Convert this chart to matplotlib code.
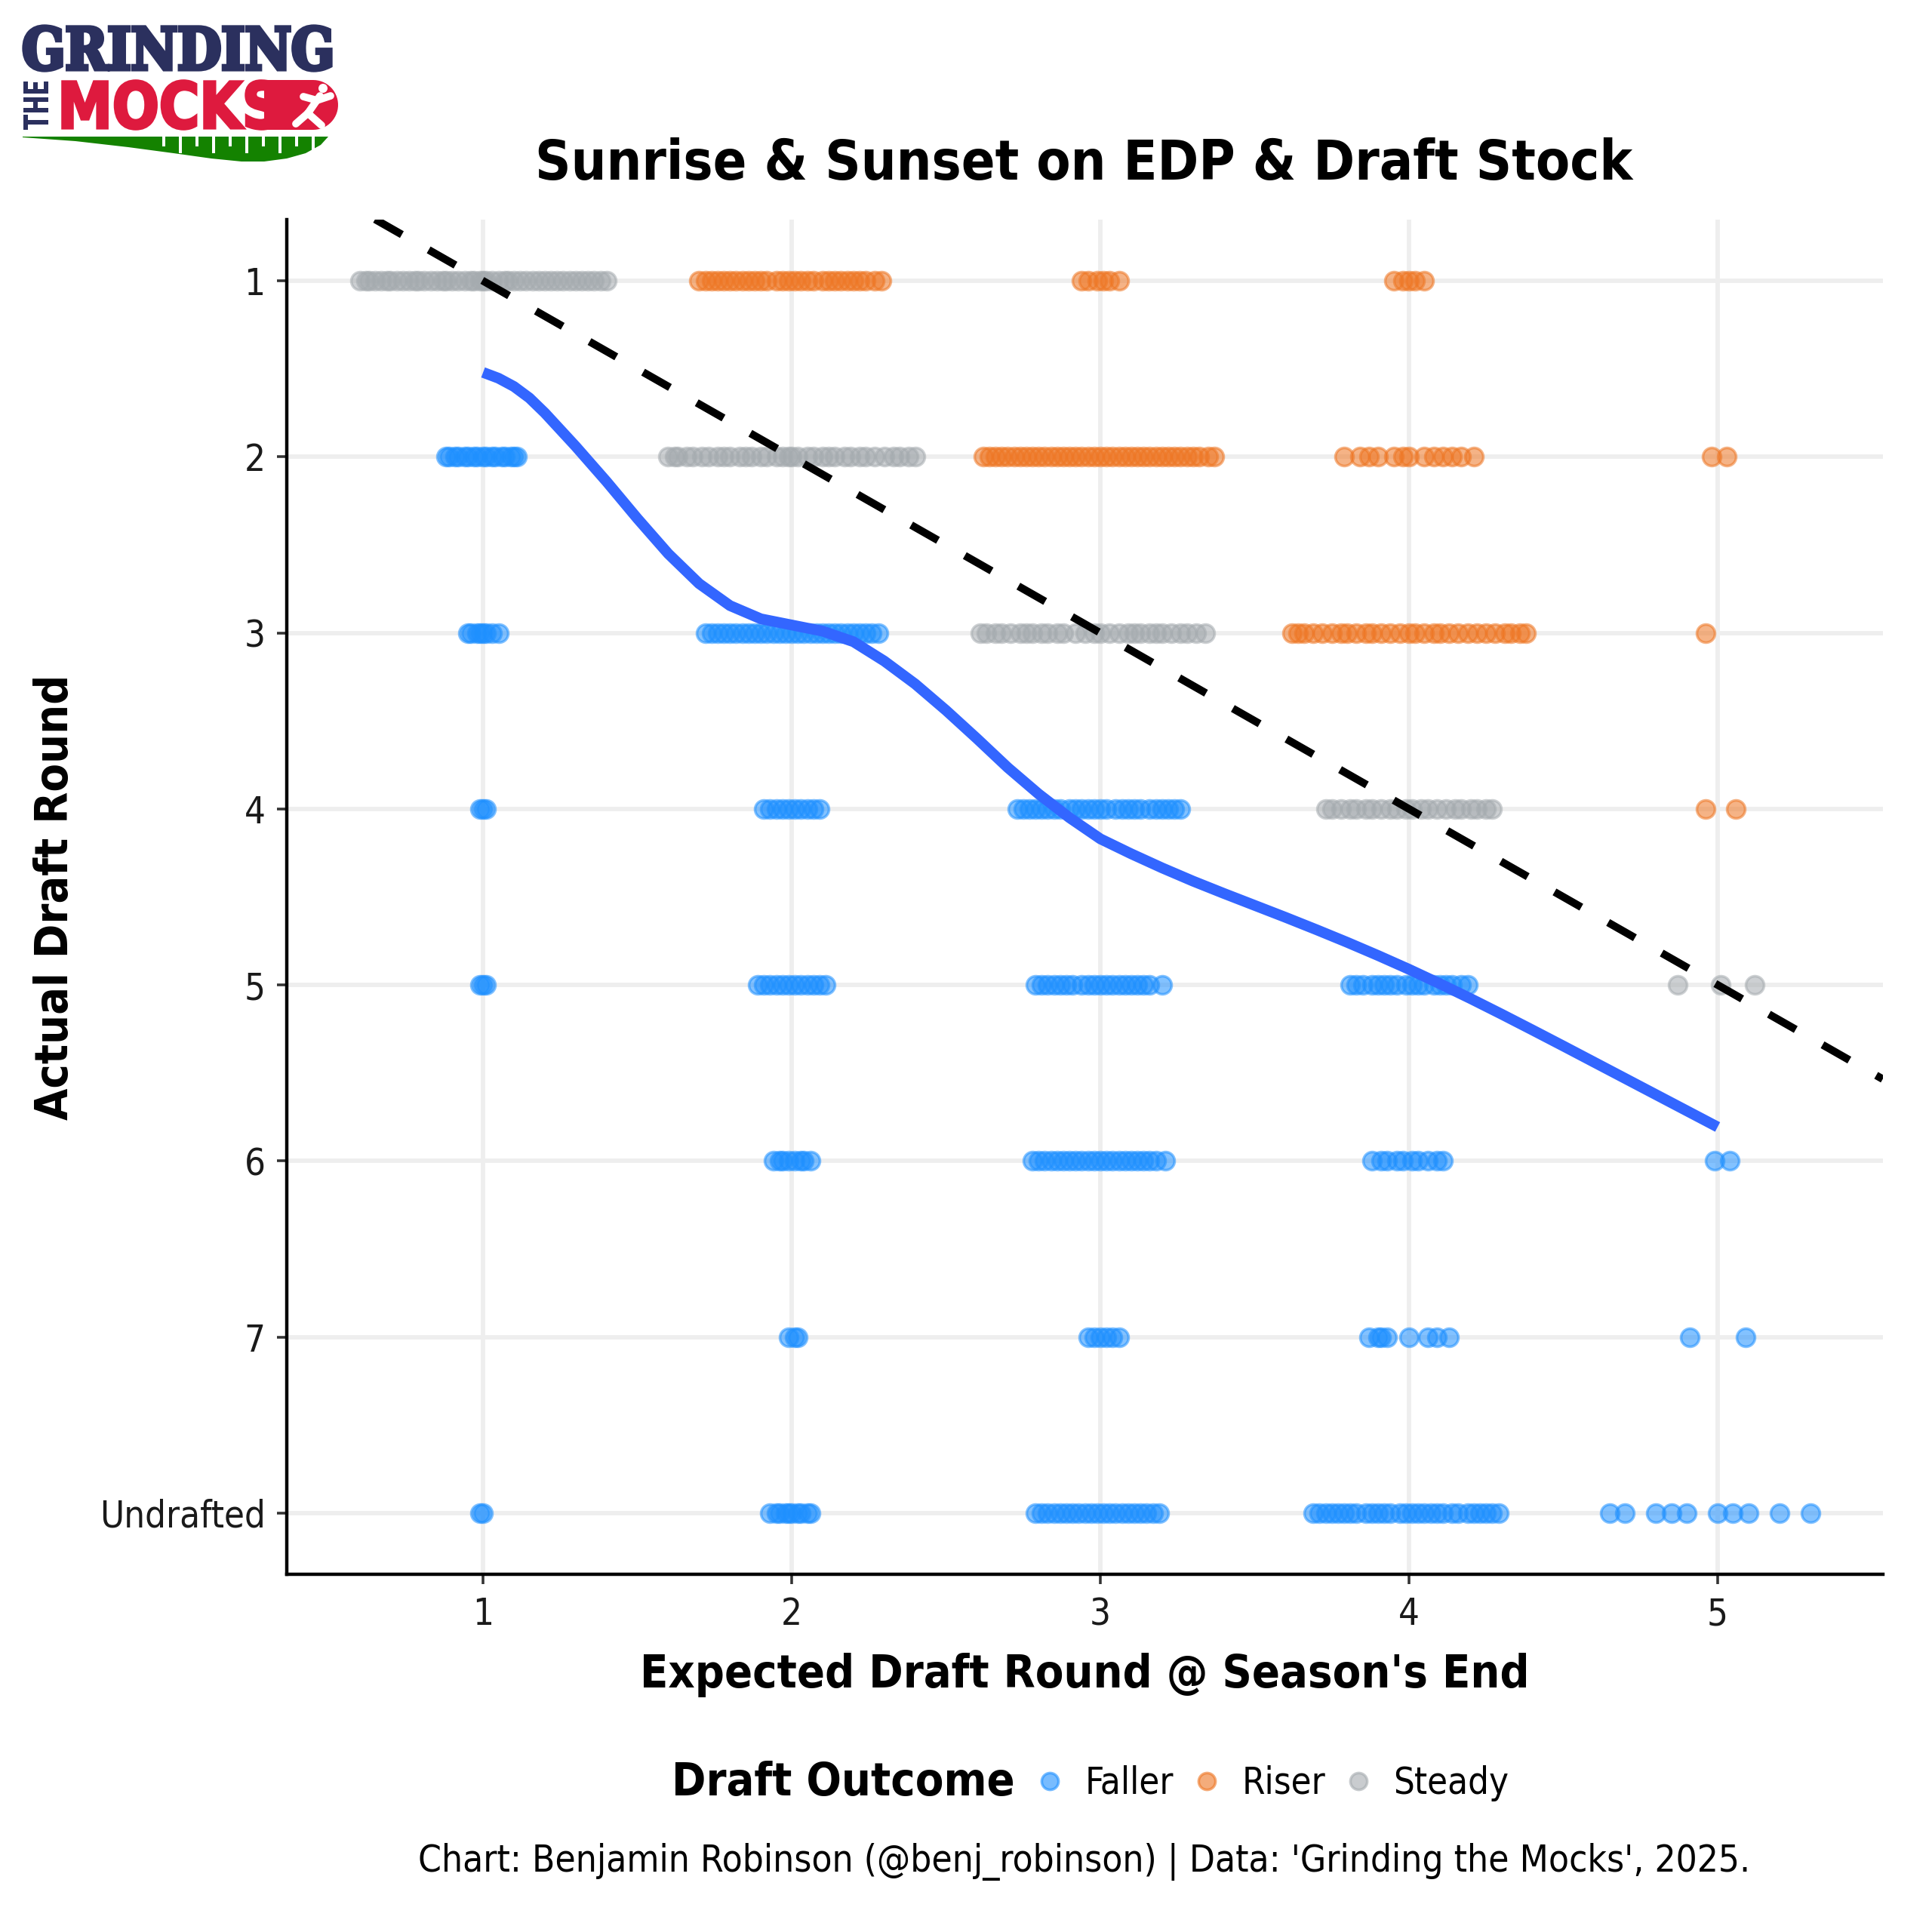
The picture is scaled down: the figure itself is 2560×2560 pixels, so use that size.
import os
import numpy as np
import matplotlib
matplotlib.use('Agg')
import matplotlib.pyplot as plt
import matplotlib.font_manager as font_manager
from matplotlib.textpath import TextPath
from matplotlib.patches import PathPatch, Polygon, Rectangle, Circle
from matplotlib.transforms import Affine2D
from matplotlib.lines import Line2D

# expected round (x) of each player, grouped by actual draft round (8 = undrafted)
faller = {
    2: [0.88, 0.89, 0.91, 0.92, 0.94, 0.95, 0.97, 0.98, 1.00, 1.01, 1.03, 1.04,
        1.06, 1.07, 1.09, 1.10, 1.11],
    3: [0.95, 0.96, 0.98, 0.99, 1.00, 1.01, 1.03, 1.05,
        1.72, 1.74, 1.76, 1.78, 1.80, 1.82, 1.84, 1.86, 1.88, 1.90, 1.92, 1.94,
        1.96, 1.98, 2.00, 2.02, 2.04, 2.06, 2.08, 2.10, 2.12, 2.14, 2.16, 2.18,
        2.20, 2.22, 2.24, 2.26, 2.28],
    4: [0.99, 1.00, 1.01,
        1.91, 1.93, 1.95, 1.97, 1.99, 2.01, 2.03, 2.05, 2.07, 2.09,
        2.73, 2.75, 2.77, 2.79, 2.81, 2.83, 2.85, 2.87, 2.90, 2.92, 2.94, 2.96,
        2.98, 3.00, 3.02, 3.05, 3.07, 3.09, 3.11, 3.13, 3.16, 3.18, 3.20, 3.22,
        3.24, 3.26],
    5: [0.99, 1.00, 1.01,
        1.89, 1.91, 1.93, 1.95, 1.97, 1.99, 2.01, 2.03, 2.05, 2.07, 2.09, 2.11,
        2.79, 2.81, 2.83, 2.85, 2.87, 2.89, 2.91, 2.94, 2.96, 2.98, 3.00, 3.02,
        3.04, 3.06, 3.08, 3.10, 3.12, 3.14, 3.16, 3.20,
        3.81, 3.83, 3.85, 3.88, 3.90, 3.92, 3.94, 3.96, 3.99, 4.01, 4.03, 4.05,
        4.08, 4.10, 4.12, 4.14, 4.17, 4.19],
    6: [1.94, 1.96, 1.97, 1.99, 2.01, 2.03, 2.04, 2.06,
        2.78, 2.80, 2.82, 2.84, 2.86, 2.88, 2.90, 2.92, 2.94, 2.96, 2.98, 3.00,
        3.02, 3.04, 3.06, 3.08, 3.10, 3.12, 3.14, 3.16, 3.18, 3.21,
        3.88, 3.91, 3.93, 3.96, 3.98, 4.01, 4.03, 4.06, 4.09, 4.11,
        4.99, 5.04],
    7: [1.99, 2.01, 2.02,
        2.96, 2.98, 3.00, 3.02, 3.04, 3.06,
        3.87, 3.90, 3.91, 3.93, 4.00, 4.06, 4.09, 4.13,
        4.91, 5.09],
    8: [0.99, 1.00,
        1.93, 1.95, 1.96, 1.98, 1.99, 2.00, 2.02, 2.03, 2.05, 2.06,
        2.79, 2.81, 2.83, 2.85, 2.87, 2.89, 2.91, 2.93, 2.95, 2.97, 2.99, 3.01,
        3.03, 3.05, 3.07, 3.09, 3.11, 3.13, 3.15, 3.17, 3.19,
        3.69, 3.71, 3.73, 3.75, 3.77, 3.79, 3.81, 3.83, 3.86, 3.88, 3.90, 3.92,
        3.94, 3.97, 3.99, 4.01, 4.03, 4.05, 4.07, 4.09, 4.11, 4.14, 4.16, 4.19,
        4.21, 4.23, 4.25, 4.27, 4.29,
        4.65, 4.70, 4.80, 4.85, 4.90, 5.00, 5.05, 5.10, 5.20, 5.30],
}

riser = {
    1: [1.70, 1.72, 1.74, 1.76, 1.78, 1.80, 1.82, 1.84, 1.86, 1.88, 1.90, 1.92,
        1.95, 1.97, 1.99, 2.01, 2.03, 2.05, 2.07, 2.10, 2.12, 2.14, 2.16, 2.18,
        2.20, 2.22, 2.24, 2.27, 2.29,
        2.94, 2.96, 2.99, 3.01, 3.03, 3.06,
        3.95, 3.98, 4.00, 4.02, 4.05],
    2: [2.62, 2.64, 2.66, 2.68, 2.70, 2.72, 2.74, 2.76, 2.78, 2.80, 2.82, 2.84,
        2.86, 2.88, 2.90, 2.92, 2.94, 2.96, 2.98, 3.00, 3.02, 3.04, 3.06, 3.08,
        3.10, 3.12, 3.14, 3.16, 3.18, 3.20, 3.22, 3.24, 3.26, 3.28, 3.30, 3.32,
        3.35, 3.37,
        3.79, 3.84, 3.87, 3.90, 3.95, 3.98, 4.00, 4.05, 4.08, 4.11, 4.14, 4.17,
        4.21,
        4.98, 5.03],
    3: [3.62, 3.64, 3.66, 3.69, 3.72, 3.75, 3.78, 3.80, 3.83, 3.86, 3.88, 3.91,
        3.94, 3.97, 4.00, 4.02, 4.05, 4.08, 4.10, 4.13, 4.16, 4.19, 4.22, 4.25,
        4.28, 4.31, 4.33, 4.36, 4.38,
        4.96],
    4: [4.96, 5.06],
}

steady = {
    1: [0.60, 0.62, 0.63, 0.65, 0.67, 0.69, 0.70, 0.72, 0.74, 0.76, 0.78, 0.79,
        0.81, 0.83, 0.85, 0.87, 0.88, 0.90, 0.92, 0.94, 0.96, 0.97, 0.99, 1.00,
        1.01, 1.03, 1.05, 1.07, 1.08, 1.10, 1.12, 1.14, 1.16, 1.18, 1.20, 1.22,
        1.24, 1.26, 1.28, 1.30, 1.32, 1.34, 1.36, 1.38, 1.40],
    2: [1.60, 1.62, 1.63, 1.66, 1.68, 1.71, 1.73, 1.76, 1.78, 1.80, 1.83, 1.85,
        1.87, 1.90, 1.92, 1.95, 1.97, 1.99, 2.00, 2.02, 2.05, 2.07, 2.10, 2.12,
        2.14, 2.17, 2.19, 2.22, 2.24, 2.27, 2.30, 2.33, 2.35, 2.38, 2.40],
    3: [2.61, 2.63, 2.66, 2.68, 2.71, 2.74, 2.76, 2.78, 2.81, 2.83, 2.86, 2.88,
        2.92, 2.95, 2.98, 3.00, 3.03, 3.06, 3.09, 3.11, 3.13, 3.16, 3.18, 3.20,
        3.23, 3.26, 3.28, 3.31, 3.34],
    4: [3.73, 3.75, 3.78, 3.81, 3.83, 3.86, 3.88, 3.91, 3.94, 3.96, 3.99, 4.01,
        4.04, 4.06, 4.09, 4.12, 4.15, 4.17, 4.20, 4.22, 4.25, 4.27],
    5: [4.87, 5.01, 5.12],
}

# loess trend
smooth_x = [1.00, 1.05, 1.10, 1.15, 1.20, 1.30, 1.40, 1.50, 1.60, 1.70, 1.80,
            1.90, 2.00, 2.10, 2.20, 2.30, 2.40, 2.50, 2.60, 2.70, 2.80, 2.90,
            3.00, 3.10, 3.20, 3.30, 3.40, 3.50, 3.60, 3.70, 3.80, 3.90, 4.00,
            4.10, 4.20, 4.30, 4.40, 4.50, 4.60, 4.70, 4.80, 4.90, 5.00]
smooth_y = [1.520, 1.553, 1.600, 1.665, 1.750, 1.940, 2.140, 2.350, 2.550,
            2.720, 2.845, 2.920, 2.955, 2.990, 3.050, 3.160, 3.290, 3.440,
            3.600, 3.765, 3.915, 4.050, 4.170, 4.255, 4.335, 4.410, 4.480,
            4.548, 4.616, 4.686, 4.758, 4.833, 4.911, 4.993, 5.078, 5.166,
            5.256, 5.347, 5.439, 5.531, 5.623, 5.715, 5.807]

round_ticks = [1, 2, 3, 4, 5, 6, 7, 8]
round_labels = ['1', '2', '3', '4', '5', '6', '7', 'Undrafted']
x_ticks = [1, 2, 3, 4, 5]

outcomes = ['Faller', 'Riser', 'Steady']
colors = {'Faller': '#1E90FF', 'Riser': '#EE7623', 'Steady': '#A5ABAF'}
groups = {'Faller': faller, 'Riser': riser, 'Steady': steady}

# fonts: condensed DejaVu looks closest to the Tahoma of the original
paths = {}
for f in font_manager.fontManager.ttflist:
    base = os.path.basename(f.fname)
    if base == 'DejaVuSansCondensed.ttf':
        paths['regular'] = f.fname
    if base == 'DejaVuSansCondensed-Bold.ttf':
        paths['bold'] = f.fname


def font(size, bold=False):
    key = 'bold' if bold else 'regular'
    if key in paths:
        p = font_manager.FontProperties(fname=paths[key])
    else:
        p = font_manager.FontProperties(family='DejaVu Sans',
                                        weight='bold' if bold else 'normal')
    p.set_size(size)
    return p


fig = plt.figure(figsize=(8, 8), dpi=320)
ax = fig.add_axes([0.1486, 0.185, 0.8259, 0.7015])

for name in outcomes:
    xs, ys = [], []
    for rnd, vals in groups[name].items():
        xs += vals
        ys += [rnd] * len(vals)
    ax.scatter(xs, ys, s=29, facecolor=colors[name], edgecolor=colors[name],
               linewidths=0.8, alpha=0.55, zorder=3)

ax.axline((1, 1), slope=1, color='black', lw=2.3, linestyle=(0, (4, 4)),
          zorder=4)
ax.plot(smooth_x, smooth_y, color='#3366FF', lw=3.2, solid_capstyle='butt',
        solid_joinstyle='round', zorder=5)

ax.set_xlim(0.365, 5.535)
ax.set_ylim(8.35, 0.65)
ax.set_xticks(x_ticks)
ax.set_yticks(round_ticks)
ax.set_yticklabels(round_labels)
for lab in ax.get_xticklabels() + ax.get_yticklabels():
    lab.set_fontproperties(font(11))
    lab.set_color('#1a1a1a')
ax.tick_params(length=3, width=0.8, pad=3.5, color='#333333')

ax.grid(True, color='#EEEEEE', lw=1.3, zorder=0)
ax.set_axisbelow(True)
for side in ['top', 'right']:
    ax.spines[side].set_visible(False)
for side in ['left', 'bottom']:
    ax.spines[side].set_linewidth(1.0)
    ax.spines[side].set_color('black')

ax.set_xlabel("Expected Draft Round @ Season's End", fontproperties=font(13.7, True))
ax.xaxis.set_label_coords(0.5, -0.0741)
ax.xaxis.label.set_va('center')
ax.set_ylabel('Actual Draft Round', fontproperties=font(13.7, True))
ax.yaxis.set_label_coords(-0.1452, 0.5)
ax.yaxis.label.set_va('center')

fig.text(0.561, 0.915, 'Sunrise & Sunset on EDP & Draft Stock',
         ha='center', va='center', fontproperties=font(16.5, True))

# legend along the bottom
fig.text(0.3476, 0.077, 'Draft Outcome', ha='left', va='center',
         fontproperties=font(13.7, True))
handles = [Line2D([], [], marker='o', linestyle='', markersize=5,
                  markerfacecolor=colors[n], markeredgecolor=colors[n],
                  markeredgewidth=0.8, alpha=0.6) for n in outcomes]
fig.legend(handles, outcomes, loc='center left', bbox_to_anchor=(0.5338, 0.077),
           ncol=3, frameon=False, prop=font(11), handlelength=1.0,
           handletextpad=0.45, columnspacing=0.4, borderpad=0,
           borderaxespad=0)

fig.text(0.561, 0.0364,
         "Chart: Benjamin Robinson (@benj_robinson) | Data: 'Grinding the Mocks', 2025.",
         ha='center', va='center', fontproperties=font(11.1))


# ---- logo (top left), coordinates in pixels of the 2560px canvas ----
def fp(x, y):
    return x / 2560, 1 - y / 2560


def px_box(x0, y0, x1, y1):
    return x0 / 2560, 1 - y1 / 2560, x1 / 2560, 1 - y0 / 2560


def fit_text(s, box, color, prop, rotate=False, stroke=0.0):
    tp = TextPath((0, 0), s, size=10, prop=prop)
    if rotate:
        tp = tp.transformed(Affine2D().rotate_deg(90))
    bb = tp.get_extents()
    fx0, fy0, fx1, fy1 = box
    tr = (Affine2D().translate(-bb.x0, -bb.y0)
          .scale((fx1 - fx0) / bb.width, (fy1 - fy0) / bb.height)
          .translate(fx0, fy0))
    fig.add_artist(PathPatch(tr.transform_path(tp), facecolor=color,
                             edgecolor=color if stroke else 'none',
                             linewidth=stroke, transform=fig.transFigure))


navy = '#2B305E'
red = '#DE1A3E'
green = '#148200'
serif_bold = font_manager.FontProperties(family='DejaVu Serif', weight='bold')
sans_bold = font_manager.FontProperties(family='DejaVu Sans', weight='bold')

fit_text('GRINDING', px_box(32, 35, 438, 93), navy, serif_bold, stroke=1.2)
fit_text('THE', px_box(31, 108, 64, 172), navy, sans_bold, rotate=True)

# red pill carrying the runner
cx, cy, r = 415, 139, 33
arc = np.linspace(-np.pi / 2, np.pi / 2, 30)
pill = [fp(350, 106)] + [fp(cx + r * np.cos(t), cy + r * np.sin(t)) for t in arc] + [fp(350, 172)]
fig.add_artist(Polygon(pill, closed=True, facecolor=red, edgecolor='none',
                       transform=fig.transFigure))
fit_text('MOCKS', px_box(83, 107, 368, 171), red, sans_bold, stroke=0.8)

# white runner silhouette
fig.add_artist(Circle(fp(428, 117), 6 / 2560, facecolor='white',
                      edgecolor='none', transform=fig.transFigure))
for (xa, ya), (xb, yb) in [((424, 127), (408, 150)), ((408, 150), (392, 164)),
                           ((408, 150), (426, 166)), ((420, 133), (438, 127)),
                           ((420, 133), (402, 128))]:
    fig.add_artist(Line2D([xa / 2560, xb / 2560], [1 - ya / 2560, 1 - yb / 2560],
                          color='white', lw=2.2, solid_capstyle='round',
                          transform=fig.transFigure))

# green swoosh with yard lines
sw = [(30, 181), (435, 181), (425, 192), (405, 203), (380, 210), (350, 214),
      (320, 214), (280, 210), (230, 203), (170, 195), (100, 187), (30, 182)]
fig.add_artist(Polygon([fp(x, y) for x, y in sw], closed=True,
                       facecolor=green, edgecolor='none',
                       transform=fig.transFigure))
for i, xl in enumerate(range(215, 430, 22)):
    h = 22 if i % 2 else 13
    fig.add_artist(Rectangle(fp(xl, 181 + h), 4 / 2560, h / 2560,
                             facecolor='white', edgecolor='none',
                             transform=fig.transFigure))

fig.savefig('out.png', dpi=320, facecolor='white')
